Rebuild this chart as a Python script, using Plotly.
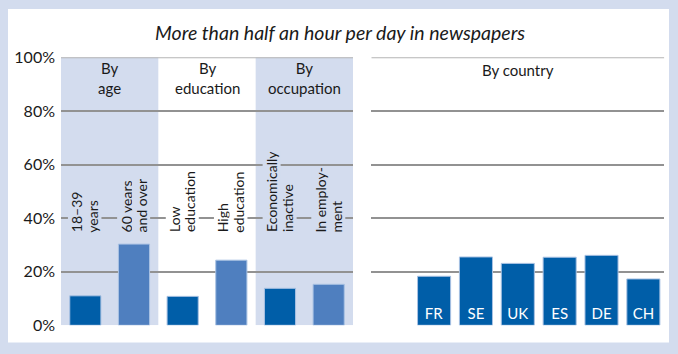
import plotly.graph_objects as go

# ---- data ----
group_titles = ["By<br>age", "By<br>education", "By<br>occupation"]
segments = ["18–39 years", "60 years and over", "Low education",
            "High education", "Economically inactive", "In employment"]
segment_labels = ["18–39<br>years", "60 years<br>and over", "Low<br>education",
                  "High<br>education", "Economically<br>inactive", "In employ-<br>ment"]
segment_values = [11.0, 30.3, 10.8, 24.3, 13.8, 15.3]
countries = ["FR", "SE", "UK", "ES", "DE", "CH"]
country_values = [18.3, 25.5, 23.1, 25.4, 26.1, 17.3]
y_ticks = [0, 20, 40, 60, 80, 100]
y_tick_labels = ["0%", "20%", "40%", "60%", "80%", "100%"]
title_text = "More than half an hour per day in newspapers"
country_title = "By country"

# ---- style ----
W, H = 678, 354
FONT = "Lato"
FRAME = "#d3dcee"
SHADE = "#d3dcee"
DARK = "#005ea8"
LIGHT = "#4f7fbf"
GRID = "#929292"
TEXT = "#1a1a1a"

def px_x(p):
    return p / W

def px_y(p):
    return 1 - p / H

ydom = [px_y(325.3), px_y(57.3)]
x1dom = [px_x(61), px_x(353)]
x2dom = [px_x(371.3), px_x(664.3)]

fig = go.Figure()

seg_colors = [DARK if i % 2 == 0 else LIGHT for i in range(len(segments))]
fig.add_trace(go.Bar(
    x=segments, y=segment_values, width=0.64,
    marker=dict(color=seg_colors, line=dict(color="#a9c2e3", width=1)),
    xaxis="x", yaxis="y", hoverinfo="skip", showlegend=False,
))
fig.add_trace(go.Bar(
    x=countries, y=country_values, width=0.79,
    marker=dict(color=DARK, line=dict(color="#a9c2e3", width=1)),
    text=countries, textposition="inside", insidetextanchor="start",
    textfont=dict(family=FONT, size=15, color="white"),
    xaxis="x2", yaxis="y2", hoverinfo="skip", showlegend=False,
))

shapes = []
# white panel
shapes.append(dict(type="rect", xref="paper", yref="paper",
                   x0=px_x(8), x1=px_x(669), y0=px_y(342.5), y1=px_y(9),
                   fillcolor="white", line=dict(width=0), layer="below"))
# group shading (age, occupation)
for gi in (0, 2):
    shapes.append(dict(type="rect", xref="x", yref="y",
                       x0=gi * 2 - 0.5, x1=gi * 2 + 1.5, y0=0, y1=100,
                       fillcolor=SHADE, line=dict(width=0), layer="below"))
# lighter top gridline
shapes.append(dict(type="line", xref="x", yref="y", x0=-0.5, x1=5.5,
                   y0=100, y1=100, line=dict(color="#b4b4b4", width=2),
                   layer="above"))
shapes.append(dict(type="line", xref="x2", yref="y2", x0=-1.5, x1=5.5,
                   y0=100, y1=100, line=dict(color="#b4b4b4", width=2),
                   layer="above"))

annotations = []
annotations.append(dict(text="<i>" + title_text + "</i>", xref="paper", yref="paper",
                        x=px_x(339.5), y=px_y(33), xanchor="center", yanchor="middle",
                        showarrow=False, font=dict(family=FONT, size=19.5, color=TEXT)))
for gi, gt in enumerate(group_titles):
    annotations.append(dict(text=gt, xref="x", yref="y", x=gi * 2 + 0.5, y=92.3,
                            xanchor="center", yanchor="middle", showarrow=False,
                            font=dict(family=FONT, size=15, color=TEXT)))
annotations.append(dict(text=country_title, xref="x2", yref="y2", x=2, y=95.3,
                        xanchor="center", yanchor="middle", showarrow=False,
                        font=dict(family=FONT, size=15, color=TEXT)))
for i, (seg, lab) in enumerate(zip(segments, segment_labels)):
    bg = SHADE if (i // 2) in (0, 2) else "white"
    lines = lab.split("<br>")
    shifts = [-8, 7.5]
    for ln, sh in zip(lines, shifts):
        annotations.append(dict(text=ln, xref="x", yref="y", x=seg, y=34.3,
                                xanchor="center", yanchor="bottom", textangle=-90,
                                xshift=sh, showarrow=False, bgcolor=bg, borderpad=0,
                                font=dict(family=FONT, size=14, color=TEXT)))

axis_common = dict(showline=False, zeroline=False, automargin=False)
fig.update_layout(
    width=W, height=H, margin=dict(l=0, r=0, t=0, b=0),
    paper_bgcolor=FRAME, plot_bgcolor="rgba(0,0,0,0)",
    template="none", barmode="group",
    xaxis=dict(domain=x1dom, anchor="y", showticklabels=False, showgrid=False,
               ticks="", range=[-0.5, 5.5], **axis_common),
    yaxis=dict(domain=ydom, anchor="x", range=[0, 100], tickvals=y_ticks,
               ticktext=y_tick_labels, showgrid=True, gridcolor=GRID, gridwidth=1.5,
               ticks="", ticklabelstandoff=5,
               tickfont=dict(family=FONT, size=16, color=TEXT), **axis_common),
    xaxis2=dict(domain=x2dom, anchor="y2", showticklabels=False, showgrid=False,
                ticks="", range=[-1.5, 5.5], **axis_common),
    yaxis2=dict(domain=ydom, anchor="x2", range=[0, 100], tickvals=y_ticks,
                showticklabels=False, showgrid=True, gridcolor=GRID, gridwidth=1.5,
                ticks="", **axis_common),
    shapes=shapes, annotations=annotations,
    font=dict(family=FONT, color=TEXT),
)

fig.write_html("out.html")
